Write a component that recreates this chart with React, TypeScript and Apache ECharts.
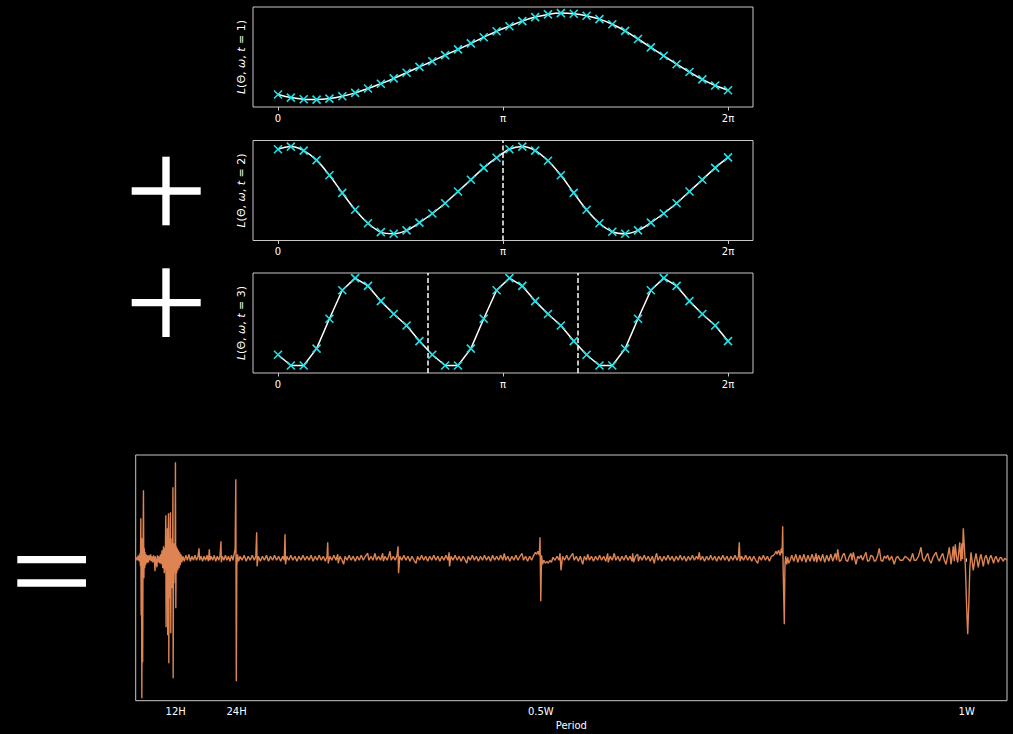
import React, { useEffect, useRef } from "react";
import * as echarts from "echarts";

// ---- top panels: L(Θ, ω, t) sampled at 36 angles over [0, 2π]
const sampleCount = 36;
const panelT = ["1", "2", "3"];
const panel1 = [0.125, 0.094, 0.077, 0.074, 0.084, 0.108, 0.141, 0.185, 0.232, 0.286, 0.343, 0.401, 0.458, 0.519, 0.576, 0.636, 0.697, 0.758, 0.808, 0.859, 0.899, 0.926, 0.939, 0.933, 0.912, 0.879, 0.828, 0.761, 0.68, 0.596, 0.512, 0.428, 0.35, 0.276, 0.215, 0.168];
const panel2 = [0.912, 0.939, 0.899, 0.804, 0.652, 0.476, 0.307, 0.172, 0.084, 0.068, 0.101, 0.179, 0.27, 0.372, 0.49, 0.608, 0.726, 0.828, 0.912, 0.939, 0.899, 0.797, 0.652, 0.476, 0.307, 0.172, 0.088, 0.068, 0.101, 0.179, 0.27, 0.372, 0.49, 0.608, 0.726, 0.831];
const panel3 = [0.183, 0.075, 0.075, 0.244, 0.542, 0.827, 0.949, 0.871, 0.719, 0.59, 0.475, 0.319, 0.183, 0.075, 0.075, 0.244, 0.542, 0.827, 0.949, 0.871, 0.719, 0.59, 0.475, 0.319, 0.183, 0.075, 0.075, 0.244, 0.542, 0.827, 0.949, 0.871, 0.719, 0.59, 0.475, 0.319];
const piTicks = [0, Math.PI, 2 * Math.PI];
const piLabels = ["0", "π", "2π"];
const panel2Dashes = [Math.PI];
const panel3Dashes = [(2 * Math.PI) / 3, (4 * Math.PI) / 3];

// ---- bottom panel: periodogram vs period (hours)
const periodTicks = [12, 24, 84, 168];
const periodLabels = ["12H", "24H", "0.5W", "1W"];
const spectrum: [number, number][] = [
  [4.2, 1], [4.4, -2], [4.6, 3], [4.8, -3], [4.95, 5], [5.05, -8], [5.12, 40], [5.18, -57], [5.25, 15], [5.32, -140], [5.4, 20], [5.48, -104], [5.56, 10], [5.64, 68], [5.72, -20], [5.8, 10], [5.88, -10], [5.96, 6],
  [6.05, -7], [6.15, 4], [6.3, -5], [6.45, 3], [6.6, -4], [6.75, 3], [6.9, -2], [7.05, 4], [7.2, -3], [7.35, 2], [7.5, -4], [7.65, 3], [7.8, -2], [7.92, -13], [8.0, 2], [8.15, -3], [8.3, -9], [8.4, 3], [8.55, -4], [8.7, 2], [8.85, -5],
  [9.0, 4], [9.15, -6], [9.3, 8], [9.45, -10], [9.6, 12], [9.75, -15], [9.85, 10], [9.92, -12], [9.98, 15], [10.05, 43], [10.1, -69], [10.18, 20], [10.26, -30], [10.36, 30], [10.42, -77], [10.5, 15], [10.58, 45], [10.64, -105], [10.72, 20], [10.8, -40], [10.9, 25], [10.97, 46], [11.03, -75], [11.1, 15], [11.2, -30], [11.3, 20], [11.38, -20], [11.45, 71], [11.5, -120], [11.58, 10], [11.66, -25], [11.75, 15], [11.85, -15], [11.95, 96], [12.02, -50], [12.1, 12], [12.2, -15], [12.3, 10], [12.42, -12], [12.55, 8], [12.65, -10], [12.78, 6], [12.9, -7], [13.05, 4], [13.2, -4],
  [13.4, 2], [13.7, -3], [14.0, 3], [14.3, -2], [14.6, 4], [14.9, -3], [15.2, 2], [15.5, -2], [15.8, 3], [16.1, -2], [16.4, 2], [16.6, 10], [16.7, -2], [17.0, 2], [17.3, -3], [17.6, 2], [17.9, -2], [18.2, 3], [18.45, -3], [18.63, 9], [18.75, -2], [19.0, 2], [19.3, -2], [19.6, 3], [19.9, -3], [20.2, 2], [20.5, -2], [20.75, 3], [20.93, 17], [21.0, -4], [21.2, 2], [21.5, -2], [21.8, 3], [22.1, -2], [22.4, 2], [22.7, -3], [23.0, 3], [23.3, -2], [23.55, 5], [23.72, 9], [23.85, 79], [23.95, -123], [24.05, -8], [24.2, 4], [24.4, -3],
  [24.7, 2], [25.1, -2], [25.5, 3], [25.9, -3], [26.3, 2], [26.7, -2], [27.1, 3], [27.5, -2], [27.8, 2], [27.97, 26], [28.05, -8], [28.3, 2], [28.7, -3], [29.1, 2], [29.5, -2], [29.9, 3], [30.3, -3], [30.7, 2], [31.1, -2], [31.5, 3], [31.9, -2], [32.3, 2], [32.7, -3], [33.1, 2], [33.4, -2], [33.56, 24], [33.65, -6], [33.9, 2], [34.3, -2], [34.7, 3], [35.1, -2], [35.5, 2], [35.9, -3], [36.3, 2], [36.7, -2], [37.1, 3], [37.5, -2], [37.9, 2], [38.3, -2], [38.7, 3], [39.1, -3], [39.5, 2], [39.9, -2], [40.3, 3], [40.7, -2], [41.1, 2], [41.5, -3], [41.85, 2], [41.98, 16], [42.08, -5], [42.4, 2], [42.8, -2], [43.2, 3], [43.6, -2], [43.95, 4], [44.05, -5], [44.4, 2], [44.8, -2], [45.13, -6], [45.4, 2], [45.8, -2], [46.2, 3], [46.6, -2], [47.0, 2], [47.4, -3], [47.8, 2], [48.2, -2], [48.6, 3], [49.0, -2], [49.4, 2], [49.87, 5], [50.1, -2], [50.5, 2], [50.9, -2], [51.31, 5], [51.6, -2], [52.0, 2], [52.4, -2], [52.82, 5], [52.95, -3], [53.3, 2], [53.7, -2], [54.0, 2], [54.26, 7], [54.5, -2], [54.9, 2], [55.3, -2], [55.65, 3], [55.85, 12], [55.95, -15], [56.2, 2], [56.6, -2], [57.0, 3], [57.4, -2], [57.8, 2], [58.2, -3], [58.6, 2], [59.0, -2], [59.39, -5], [59.7, 2], [60.1, -2], [60.5, 3], [60.9, -2], [61.3, 2], [61.7, -3], [62.1, 2], [62.5, -2], [62.9, 3], [63.3, -2], [63.7, 2], [64.1, -3], [64.5, 2], [64.9, -2], [65.3, 3], [65.7, -2], [65.92, 6], [66.0, -8], [66.3, 2], [66.7, -2], [67.1, 3], [67.5, -2], [67.9, 2], [68.3, -3], [68.7, 2], [69.1, -2], [69.39, -5], [69.7, 2], [70.1, -2], [70.5, 3], [70.9, -2], [71.3, 2], [71.7, -3], [72.1, 2], [72.5, -2], [72.9, 3], [73.3, -2], [73.7, 2], [74.1, -3], [74.5, 3], [74.9, -2], [75.3, 2], [75.7, -2], [76.1, 3], [76.5, -2], [76.81, 5], [77.1, -2], [77.5, 2], [77.9, -3], [78.3, 2], [78.7, -2], [79.1, 3], [79.5, -2], [79.9, 2], [80.3, 5], [80.6, -2], [81.0, 2], [81.4, -3], [81.8, 2], [82.2, -2], [82.6, 3], [82.95, 6], [83.2, 4], [83.45, 7], [83.7, 3], [83.85, 21], [84.0, -43], [84.15, 3], [84.35, -6], [84.6, -2], [84.9, -5], [85.2, -3], [85.5, -5], [85.8, -2], [86.1, -4], [86.4, 1],
  [86.8, -2], [87.2, 2], [87.6, -2], [87.79, 5], [87.99, -12], [88.3, 2], [88.7, -2], [89.1, 3], [89.5, -2], [89.9, 2], [90.3, 5], [90.6, -2], [91.0, 2], [91.4, -3], [91.8, 2], [92.27, -6], [92.6, 2], [93.0, -2], [93.25, 4], [93.6, -2], [94.0, 2], [94.4, -3], [94.8, 2], [95.2, -2], [95.6, 3], [96.0, -2], [96.4, 2], [96.8, -3], [97.2, 5], [97.3, -4], [97.7, 2], [98.1, -2], [98.5, 5], [98.8, -2], [99.2, 2], [99.6, -3], [100.0, 2], [100.4, -2], [100.8, 3], [101.2, -2], [101.6, 2], [102.0, -3], [102.13, 5], [102.3, -4], [102.7, 2], [103.12, 4], [103.25, -3], [103.6, 2], [104.0, -2], [104.4, 3], [104.8, -2], [105.2, 2], [105.6, -3], [106.0, 2], [106.39, -5], [106.6, 1], [106.86, 5], [107.1, -2], [107.5, 2], [107.9, -3], [108.3, 2], [108.7, -2], [109.1, 3], [109.5, -2], [109.9, 2], [110.3, -3], [110.7, 2], [111.1, -2], [111.5, 3], [111.9, -2], [112.3, 2], [112.7, -3], [113.1, 2], [113.5, -2], [113.9, 3], [114.3, -2], [114.7, 2], [115.0, -1], [115.26, 6], [115.5, -2], [115.9, 2], [116.3, -3], [116.7, 2], [117.1, -2], [117.5, 3], [117.9, -2], [118.3, 2], [118.7, -3], [119.1, 2], [119.5, -2], [119.9, 3], [120.3, -2], [120.7, 2], [121.1, -3], [121.5, 2], [121.9, -2], [122.3, 3], [122.7, -2], [123.0, 2], [123.15, 16], [123.3, -3], [123.6, 2], [124.0, -2], [124.4, 3], [124.8, -2], [125.2, 2], [125.6, -3], [126.0, 2], [126.4, -2], [126.78, -5], [127.1, 2], [127.5, -2], [127.9, 3], [128.3, -2], [128.7, 2], [129.1, -3], [129.5, 2], [129.9, 3], [130.2, 5], [130.39, 7], [130.6, 4], [130.9, 8], [131.2, 3], [131.45, 10], [131.6, 5], [131.71, 32], [131.8, -10], [132.03, -66], [132.15, -8], [132.3, 2], [132.5, -6], [132.7, 1], [132.9, -5], [133.2, -2], [133.5, 3], [133.9, -3], [134.3, 4], [134.7, -4], [135.1, 3], [135.5, -3], [135.9, 4], [136.3, -4], [136.7, 3], [137.1, -3], [137.5, 4], [137.9, -3], [138.3, 5], [138.4, -4], [138.8, 3], [139.2, -3], [139.6, 4], [140.0, -4], [140.4, 3], [140.8, -3], [141.2, 4], [141.6, -3], [142.1, 5], [142.35, -2],
  [142.56, 9], [142.9, -3], [143.21, -2], [143.55, 3], [143.86, 5], [144.2, -2], [144.53, -3], [144.85, 2], [145.18, 5], [145.4, -2], [145.64, 6], [145.9, 0], [146.17, -6], [146.5, 2], [146.82, 0], [147.15, 3], [147.49, -2], [147.8, 2], [148.14, 6], [148.45, -3], [148.79, -2], [149.1, 3], [149.46, 2], [149.8, -3], [150.11, -2], [150.45, 3], [150.76, 10], [151.1, -2], [151.43, -3], [151.75, 2], [152.08, 0], [152.4, 3], [152.73, -2], [153.2, 2], [153.72, -6], [154.05, 0], [154.39, 2], [154.9, -2], [155.38, -2], [155.85, 2], [156.36, 0], [156.85, -3], [157.35, 5], [157.65, -2], [158.0, -2], [158.5, 2], [158.99, 11], [159.3, 0], [159.64, -3], [160.0, 2], [160.31, 5], [160.65, -2], [160.96, -5], [161.45, 2], [161.94, 6], [162.3, 0], [162.6, -3], [162.95, 2], [163.27, 5], [163.6, -2], [163.92, -6], [164.25, 2], [164.57, 11], [164.9, -6], [165.15, 3], [165.36, 12], [165.55, -3], [165.75, 14], [166.0, 1], [166.22, -4], [166.42, 5], [166.62, 16], [166.85, -3], [167.05, 15], [167.17, -1], [167.33, 30], [167.55, 10], [167.75, -10], [168.0, -50], [168.2, -76], [168.42, -45], [168.62, -10], [168.85, 6], [169.08, -3], [169.3, -12], [169.58, -2], [169.84, 5], [170.06, -2], [170.29, -9], [170.55, -1], [170.82, 4], [171.05, -2], [171.28, -8], [171.55, 0], [171.81, 3], [172.05, -1], [172.26, -6], [172.52, 0], [172.79, 3], [173.05, -1], [173.3, -5], [173.55, 0], [173.78, 2], [174.0, -1], [174.23, -4], [174.5, 0], [174.77, 1], [175.0, -1], [175.22, -3], [175.5, 0], [175.75, -1], [175.95, -2],
];

const FONT = "DejaVu Sans";
const TEXT = "#ffffff";
const FRAME = "#c8c8c8";
const CYAN = "#22e0e6";
const ORANGE = "#dd8452";

export default function App() {
  const ref = useRef<HTMLDivElement>(null);
  useEffect(() => {
    document.body.style.margin = "0";
    document.body.style.background = "#000";
    if (!ref.current) return;
    const chart = echarts.init(ref.current, null, { renderer: "svg" });

    const panels = [panel1, panel2, panel3];
    const dashes = [[], panel2Dashes, panel3Dashes];
    const tops = [7, 140.5, 273];
    const grids: any[] = tops.map((t) => ({
      left: 253, top: t, width: 500, height: 100,
      show: true, borderColor: FRAME, borderWidth: 1, backgroundColor: "transparent",
    }));
    grids.push({ left: 135.7, top: 455, width: 871.3, height: 245.7, show: true, borderColor: FRAME, borderWidth: 1, backgroundColor: "transparent" });

    const xAxes: any[] = tops.map((_, i) => ({
      type: "value", gridIndex: i, min: -0.349, max: 6.632,
      axisLine: { show: false },
      splitLine: { show: false },
      axisTick: { show: true, customValues: piTicks, length: 3.5, lineStyle: { color: FRAME, width: 1 } },
      axisLabel: {
        show: true, customValues: piTicks, margin: 6, color: TEXT, fontSize: 10, fontFamily: FONT,
        formatter: (v: number) => piLabels[piTicks.findIndex((p) => Math.abs(p - v) < 1e-6)] ?? "",
      },
    }));
    xAxes.push({
      type: "value", gridIndex: 3, min: 4.11, max: 175.95,
      axisLine: { show: false }, splitLine: { show: false },
      axisTick: { show: true, customValues: periodTicks, length: 3.5, lineStyle: { color: FRAME, width: 1 } },
      axisLabel: {
        show: true, customValues: periodTicks, margin: 6, color: TEXT, fontSize: 10, fontFamily: FONT,
        formatter: (v: number) => periodLabels[periodTicks.indexOf(v)] ?? "",
      },
      name: "Period", nameLocation: "middle", nameGap: 20,
      nameTextStyle: { color: TEXT, fontSize: 10, fontFamily: FONT },
    });

    const yAxes: any[] = tops.map((_, i) => ({
      type: "value", gridIndex: i, min: 0, max: 1,
      axisLine: { show: false }, axisTick: { show: false }, axisLabel: { show: false }, splitLine: { show: false },
      name: `{i|L}(Θ, {i|ω}, {i|t} = ${panelT[i]})`,
      nameLocation: "middle", nameGap: 6, nameRotate: 90,
      nameTextStyle: {
        color: TEXT, fontSize: 11, fontFamily: FONT,
        rich: { i: { fontStyle: "italic", color: TEXT, fontSize: 11, fontFamily: FONT } },
      },
    }));
    yAxes.push({
      type: "value", gridIndex: 3, min: -142.4, max: 103.3,
      axisLine: { show: false }, axisTick: { show: false }, axisLabel: { show: false }, splitLine: { show: false },
    });

    const step = (2 * Math.PI) / (sampleCount - 1);
    const series: any[] = panels.map((vals, i) => ({
      type: "line", xAxisIndex: i, yAxisIndex: i,
      data: vals.map((v, k) => [k * step, v]),
      smooth: i < 2 ? 0.35 : false,
      symbol: "path://M0,0L10,10M10,0L0,10", symbolSize: 8, showSymbol: true,
      lineStyle: { color: "#ffffff", width: 1.5 },
      itemStyle: { color: CYAN, borderColor: CYAN, borderWidth: 1.6 },
      z: 3,
      markLine: dashes[i].length ? {
        silent: true, symbol: ["none", "none"], label: { show: false },
        lineStyle: { color: "#ffffff", type: [5, 2.5], width: 1.5 },
        data: dashes[i].map((x) => ({ xAxis: x })),
        z: 2,
      } : undefined,
    }));
    series.push({
      type: "line", xAxisIndex: 3, yAxisIndex: 3, data: spectrum,
      showSymbol: false, symbol: "none",
      lineStyle: { color: ORANGE, width: 1.4 },
    });

    const bar = (x: number, y: number, w: number, h: number) => ({
      type: "rect", shape: { x, y, width: w, height: h }, style: { fill: "#ffffff" }, silent: true,
    });

    chart.setOption({
      animation: false,
      backgroundColor: "#000000",
      grid: grids,
      xAxis: xAxes,
      yAxis: yAxes,
      series,
      graphic: [
        bar(162.3, 156.7, 7.4, 68.6), bar(131.7, 187.3, 69, 7.4),
        bar(162.3, 268.3, 7.4, 68.7), bar(131.7, 299, 69, 7.3),
        bar(17.3, 556, 68.7, 7.3), bar(17.3, 579.3, 68.7, 7.4),
      ],
    });
    return () => chart.dispose();
  }, []);
  return <div ref={ref} style={{ width: 1013, height: 734, background: "#000" }} />;
}
